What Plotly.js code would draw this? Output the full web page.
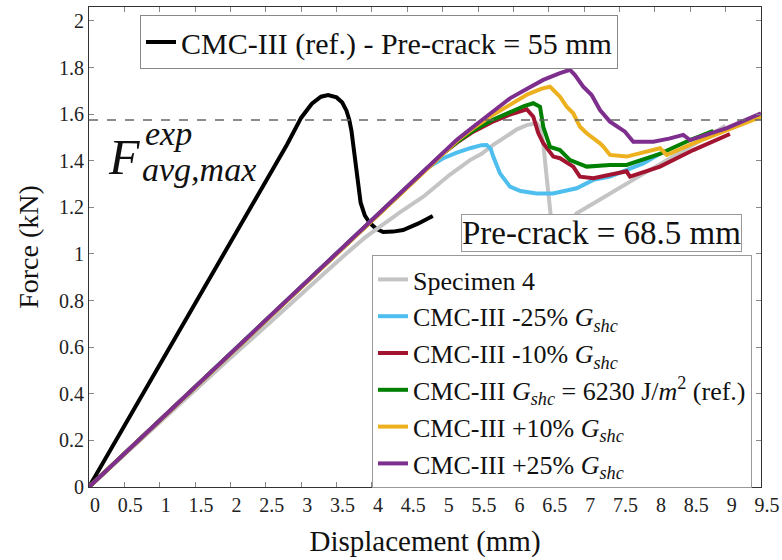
<!DOCTYPE html>
<html><head><meta charset="utf-8">
<script src="https://cdn.plot.ly/plotly-3.0.1.min.js"></script>
<style>html,body{margin:0;padding:0;background:#fff}</style>
</head><body><div id="chart" style="width:782px;height:560px"></div>
<script>
// ---- data (displacement in mm, force in kN) ----
const refX = [0,0.5,1,1.5,2,2.5,2.8,3.0,3.15,3.28,3.38,3.5,3.58,3.64,3.68,3.71,3.74,3.77,3.80,3.84,3.9,3.97,4.06,4.16,4.3,4.44,4.65,4.86];
const refY = [0,0.262,0.525,0.79,1.05,1.31,1.47,1.585,1.645,1.675,1.682,1.672,1.65,1.615,1.575,1.53,1.46,1.38,1.30,1.22,1.165,1.133,1.108,1.094,1.096,1.103,1.13,1.163];

const specX = [0,0.5,1,1.5,2,2.5,3,3.3,3.643,3.9,4.114,4.4,4.726,4.9,5.1,5.386,5.55,5.715,5.9,6.05,6.188,6.33,6.38,6.422,6.47,6.517,6.55,6.62,6.75,6.894,7.129,7.36,7.601,7.84,8.072,8.3,8.55,8.8,9.0];
const specY = [0,0.14,0.28,0.415,0.555,0.69,0.83,0.91,1.003,1.07,1.117,1.18,1.246,1.29,1.34,1.403,1.43,1.468,1.505,1.535,1.553,1.561,1.54,1.475,1.33,1.19,1.10,1.07,1.12,1.175,1.217,1.26,1.303,1.345,1.385,1.425,1.47,1.515,1.55];

const m25X = [0,1,2,3,4,4.5,4.774,5.0,5.2,5.4,5.55,5.622,5.68,5.715,5.81,5.951,6.1,6.329,6.559,6.894,7.129,7.365,7.6,7.836,8.07];
const m25Y = [0,0.2865,0.573,0.86,1.146,1.289,1.368,1.41,1.435,1.455,1.467,1.468,1.45,1.418,1.346,1.289,1.27,1.26,1.26,1.282,1.318,1.332,1.36,1.389,1.43];

const m10X = [0,1,2,3,4,4.5,5.0,5.2,5.433,5.7,5.95,6.188,6.281,6.35,6.422,6.564,6.658,6.846,6.94,7.13,7.6,7.62,7.648,8.072,8.542,9.061];
const m10Y = [0,0.2865,0.573,0.86,1.146,1.289,1.43,1.478,1.525,1.567,1.598,1.621,1.589,1.52,1.475,1.418,1.411,1.375,1.332,1.325,1.355,1.345,1.332,1.375,1.446,1.515];

const refGX = [0,1,2,3,4,4.5,5.0,5.2,5.433,5.7,5.95,6.15,6.281,6.376,6.422,6.517,6.658,6.8,7.036,7.365,7.6,8.07,8.496,8.826];
const refGY = [0,0.2865,0.573,0.86,1.146,1.289,1.43,1.48,1.53,1.575,1.61,1.635,1.647,1.632,1.546,1.46,1.446,1.403,1.375,1.382,1.382,1.43,1.489,1.528];

const p10X = [0,1,2,3,4,4.5,5.0,5.2,5.433,5.7,5.95,6.2,6.4,6.517,6.564,6.658,6.753,6.846,6.941,7.036,7.224,7.27,7.365,7.601,8.072,8.12,8.167,8.542,9.0,9.5];
const p10Y = [0,0.2865,0.573,0.86,1.146,1.289,1.43,1.485,1.54,1.595,1.64,1.685,1.71,1.718,1.704,1.675,1.632,1.604,1.546,1.518,1.475,1.461,1.425,1.418,1.454,1.44,1.425,1.475,1.53,1.589];

const p25X = [0,1,2,3,4,4.5,5.0,5.2,5.433,5.7,5.951,6.2,6.422,6.658,6.8,6.87,6.987,7.106,7.224,7.365,7.577,7.694,7.977,8.2,8.401,8.45,8.496,9.015,9.5];
const p25Y = [0,0.2865,0.573,0.86,1.146,1.289,1.432,1.49,1.546,1.61,1.668,1.71,1.747,1.776,1.79,1.768,1.718,1.682,1.618,1.568,1.525,1.482,1.482,1.495,1.511,1.50,1.489,1.54,1.604];

const avgMaxX = [0, 9.5];
const avgMaxY = [1.575, 1.575];

const xTicks = [0,0.5,1,1.5,2,2.5,3,3.5,4,4.5,5,5.5,6,6.5,7,7.5,8,8.5,9,9.5];
const yTicks = [0,0.2,0.4,0.6,0.8,1,1.2,1.4,1.6,1.8,2];

const names = [
  'CMC-III (ref.) - Pre-crack = 55 mm',
  'Specimen 4',
  'CMC-III -25% <i>G<sub>shc</sub></i>',
  'CMC-III -10% <i>G<sub>shc</sub></i>',
  'CMC-III <i>G<sub>shc</sub></i> = 6230 J/<i>m</i><sup>2</sup> (ref.)',
  'CMC-III +10% <i>G<sub>shc</sub></i>',
  'CMC-III +25% <i>G<sub>shc</sub></i>'
];

const SERIF = '"Liberation Serif", "Times New Roman", Times, serif';
const W = 4;
const traces = [
  {x: refX, y: refY, name: names[0], legend: 'legend', line: {color: '#000000', width: W}},
  {x: specX, y: specY, name: names[1], legend: 'legend2', line: {color: '#C4C4C4', width: W}},
  {x: m25X, y: m25Y, name: names[2], legend: 'legend2', line: {color: '#4DBEEE', width: W}},
  {x: m10X, y: m10Y, name: names[3], legend: 'legend2', line: {color: '#A2142F', width: W}},
  {x: refGX, y: refGY, name: names[4], legend: 'legend2', line: {color: '#008000', width: W}},
  {x: p10X, y: p10Y, name: names[5], legend: 'legend2', line: {color: '#EDB120', width: W}},
  {x: p25X, y: p25Y, name: names[6], legend: 'legend2', line: {color: '#7E2F8E', width: W}},
  {x: avgMaxX, y: avgMaxY, showlegend: false, hoverinfo: 'skip', line: {color: '#666666', width: 1.5, dash: 'dash'}}
].map(t => Object.assign({type: 'scatter', mode: 'lines'}, t));

function px2paperX(px){ return (px - 89) / 672; }
function px2paperY(py){ return (487 - py) / 480; }

const layout = {
  width: 782, height: 560,
  margin: {l: 89, r: 21, t: 7, b: 73},
  paper_bgcolor: '#fff', plot_bgcolor: '#fff',
  font: {family: SERIF, color: '#111', size: 20},
  showlegend: true,
  xaxis: {
    range: [0, 9.5], tickvals: xTicks, ticks: 'inside', ticklen: 5, tickcolor: '#888',
    showline: true, linecolor: '#333', linewidth: 1, mirror: 'ticks', showgrid: false, zeroline: false,
    tickfont: {size: 20, family: SERIF, color: '#222'}, ticklabelshift: 6,
    title: {text: 'Displacement (mm)', font: {size: 29, family: SERIF, color: '#111'}, standoff: 15}
  },
  yaxis: {
    range: [0, 2.06], tickvals: yTicks, ticks: 'inside', ticklen: 5, tickcolor: '#888',
    showline: true, linecolor: '#333', linewidth: 1, mirror: 'ticks', showgrid: false, zeroline: false,
    tickfont: {size: 20, family: SERIF, color: '#222'},
    title: {text: 'Force (kN)', font: {size: 28, family: SERIF, color: '#111'}, standoff: 12}
  },
  legend: {
    x: px2paperX(140), y: px2paperY(42), xanchor: 'left', yanchor: 'middle',
    bgcolor: '#fff', bordercolor: '#888', borderwidth: 1,
    font: {size: 30, family: SERIF, color: '#111'}
  },
  legend2: {
    x: px2paperX(752), y: px2paperY(255), xanchor: 'right', yanchor: 'top',
    bgcolor: '#fff', bordercolor: '#999', borderwidth: 1,
    font: {size: 26, family: SERIF, color: '#111'}, tracegroupgap: 0
  },
  annotations: [
    {x: 7.245, y: 1.092, xref: 'x', yref: 'y', xanchor: 'center', yanchor: 'middle',
     text: 'Pre-crack = 68.5 mm', showarrow: false,
     font: {size: 33, family: SERIF, color: '#111'}, bgcolor: '#fff', bordercolor: '#999', borderwidth: 1, borderpad: 0},
    {x: px2paperX(106), y: px2paperY(157), xref: 'paper', yref: 'paper', xanchor: 'left', yanchor: 'middle',
     text: '<i>F</i>', showarrow: false, font: {size: 50, family: SERIF, color: '#111'}},
    {x: px2paperX(143), y: px2paperY(134), xref: 'paper', yref: 'paper', xanchor: 'left', yanchor: 'middle',
     text: '<i>exp</i>', showarrow: false, font: {size: 34, family: SERIF, color: '#111'}},
    {x: px2paperX(140), y: px2paperY(169), xref: 'paper', yref: 'paper', xanchor: 'left', yanchor: 'middle',
     text: '<i>avg,max</i>', showarrow: false, font: {size: 34, family: SERIF, color: '#111'}}
  ]
};

Plotly.newPlot('chart', traces, layout, {displayModeBar: false, staticPlot: true});
</script>
</body></html>
